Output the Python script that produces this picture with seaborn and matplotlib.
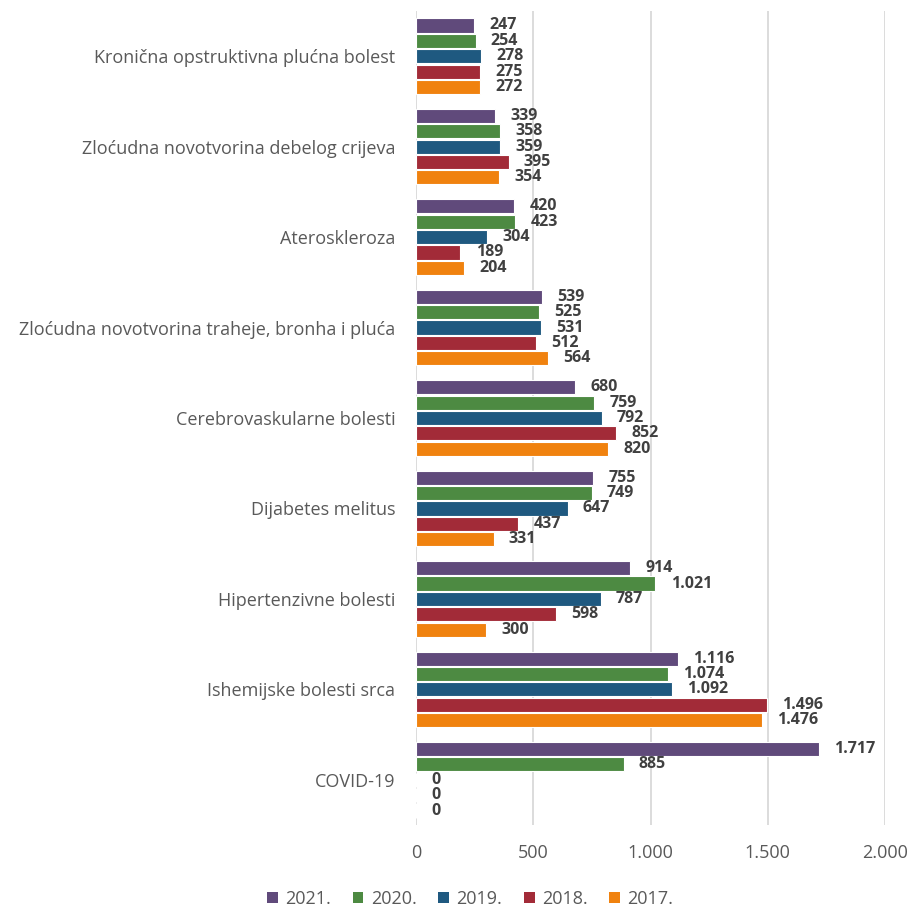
import matplotlib
matplotlib.use("Agg")
import matplotlib.pyplot as plt
import seaborn as sns
import pandas as pd
from matplotlib.patches import Patch

categories = [
    "Kronična opstruktivna plućna bolest",
    "Zloćudna novotvorina debelog crijeva",
    "Ateroskleroza",
    "Zloćudna novotvorina traheje, bronha i pluća",
    "Cerebrovaskularne bolesti",
    "Dijabetes melitus",
    "Hipertenzivne bolesti",
    "Ishemijske bolesti srca",
    "COVID-19",
]
years = ["2021.", "2020.", "2019.", "2018.", "2017."]
v2021 = [247, 339, 420, 539, 680, 755, 914, 1116, 1717]
v2020 = [254, 358, 423, 525, 759, 749, 1021, 1074, 885]
v2019 = [278, 359, 304, 531, 792, 647, 787, 1092, 0]
v2018 = [275, 395, 189, 512, 852, 437, 598, 1496, 0]
v2017 = [272, 354, 204, 564, 820, 331, 300, 1476, 0]
x_ticks = [0, 500, 1000, 1500, 2000]

colors = ["#604A7B", "#4D8A42", "#1F5980", "#A22B38", "#F0820F"]

series = [v2021, v2020, v2019, v2018, v2017]
rows = []
for yr, vals in zip(years, series):
    for c, v in zip(categories, vals):
        rows.append({"category": c, "year": yr, "value": v})
df = pd.DataFrame(rows)

sns.set_theme(style="white")
plt.rcParams["font.family"] = ["Open Sans", "DejaVu Sans"]

fig = plt.figure(figsize=(9.13, 9.13), dpi=100)
ax = fig.add_axes([416 / 913, 1 - 825 / 913, (885 - 416) / 913, (825 - 11) / 913])

sns.barplot(data=df, y="category", x="value", hue="year", order=categories,
            hue_order=years, palette=colors, saturation=1, orient="h",
            width=0.85, gap=0.08, edgecolor="white", linewidth=0.8, ax=ax,
            legend=False)

def fmt(v):
    return f"{int(v):,}".replace(",", ".")

for cont, vals in zip(ax.containers, series):
    ax.bar_label(cont, labels=[fmt(v) for v in vals], padding=11,
                 fontsize=11.5, fontweight="bold", color="#404040")

ax.set_xlim(0, 2000)
ax.set_xticks(x_ticks)
ax.set_xticklabels([fmt(t) for t in x_ticks], fontsize=13, color="#595959")
ax.tick_params(axis="x", pad=14, length=0)
ax.tick_params(axis="y", length=0, pad=15, labelsize=13, labelcolor="#595959")
ax.set_xlabel("")
ax.set_ylabel("")
ax.grid(axis="x", color="#D9D9D9", linewidth=1.3)
ax.grid(axis="y", visible=False)
ax.set_axisbelow(True)
for s in ax.spines.values():
    s.set_visible(False)

handles = [Patch(facecolor=c, edgecolor="none") for c in colors]
fig.legend(handles, years, loc="lower center", bbox_to_anchor=(0.515, -0.012), ncol=5,
           frameon=False, fontsize=13, labelcolor="#595959", handlelength=0.6,
           handleheight=0.6, handletextpad=0.4, columnspacing=1.2)

fig.savefig("out.png", dpi=100)
